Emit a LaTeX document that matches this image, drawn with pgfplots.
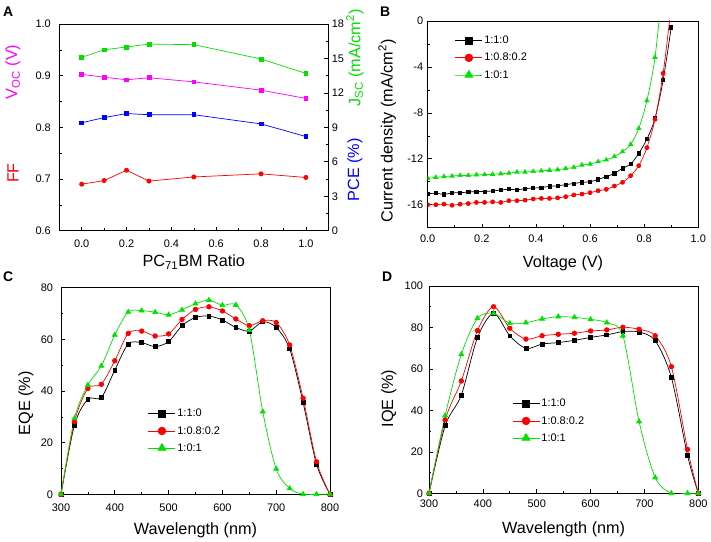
\documentclass[border=0pt]{standalone}
\usepackage{fontspec}
\setmainfont{Liberation Sans}
\usepackage{pgfplots}
\pgfplotsset{compat=1.18}
\definecolor{cgreen}{RGB}{0,225,0}
\definecolor{cmag}{RGB}{255,0,255}
\definecolor{cblue}{RGB}{0,0,255}
\definecolor{cred}{RGB}{255,0,0}
\newcommand\lblfont{\fontsize{16.3}{19}\selectfont}
\newcommand\tckfont{\fontsize{11}{13}\selectfont}
\pgfplotsset{
 panel/.style={
  scale only axis, anchor=south west,
  axis line style={line width=0.8bp},
  every tick/.style={black, line width=0.6bp},
  major tick length=4bp, minor tick length=2.2bp,
  tick align=inside,
  tick label style={font=\tckfont},
  label style={font=\lblfont},
  /pgf/number format/assume math mode=true,
  legend cell align=left,
  legend style={draw=none, fill=none, font=\tckfont, anchor=north west, row sep=5bp, inner sep=0pt, nodes={inner sep=1.5bp}},
  legend image code/.code={\draw[mark repeat=2,mark phase=2] plot coordinates {(0bp,0bp) (13.5bp,0bp) (27bp,0bp)};},
  every axis plot/.append style={line width=0.7bp},
 },
 bser/.style={black, mark=square*, mark size=1.9bp, mark options={solid}},
 rser/.style={cred, mark=*, mark size=2.3bp, mark options={solid}},
 gser/.style={cgreen, mark=triangle*, mark size=2.8bp, mark options={solid}},
 blg/.style={black, mark=square*, mark size=3.3bp, line width=0.8bp},
 rlg/.style={cred, mark=*, mark size=3.8bp, line width=0.8bp},
 glg/.style={cgreen, mark=triangle*, mark size=4.5bp, line width=0.8bp},
}
\begin{document}
\begin{tikzpicture}
\path[use as bounding box] (0bp,0bp) rectangle (711bp,542bp);
\node[anchor=north west, inner sep=0pt, font=\fontsize{14}{14}\selectfont\bfseries] at (3bp,535bp) {A};
\node[anchor=north west, inner sep=0pt, font=\fontsize{14}{14}\selectfont\bfseries] at (380bp,535bp) {B};
\node[anchor=north west, inner sep=0pt, font=\fontsize{14}{14}\selectfont\bfseries] at (3bp,270bp) {C};
\node[anchor=north west, inner sep=0pt, font=\fontsize{14}{14}\selectfont\bfseries] at (382bp,270bp) {D};

% ---------- Panel A (left axis) ----------
\begin{axis}[panel, at={(59.3bp,311.3bp)}, width=269bp, height=206.7bp,
 clip mode=individual,
 xmin=-0.1, xmax=1.1, ymin=0.6, ymax=1.0,
 xtick={0,0.2,0.4,0.6,0.8,1.0}, xticklabels={0.0,0.2,0.4,0.6,0.8,1.0},
 minor xtick={-0.1,0.1,0.3,0.5,0.7,0.9,1.1},
 ytick={0.6,0.7,0.8,0.9,1.0}, yticklabels={0.6,0.7,0.8,0.9,1.0},
 minor ytick={0.65,0.75,0.85,0.95},
 xtick pos=bottom, ytick pos=left,
 xticklabel style={yshift=-6bp}, yticklabel style={xshift=-5bp},
 xlabel={PC\textsubscript{71}BM Ratio},
 xlabel style={at={(axis description cs:0.5,-0.151)}, anchor=center},
]
\addplot[cmag, mark=square*, mark size=1.9bp] coordinates {
 (0,0.9026) (0.1,0.897) (0.2,0.892) (0.3,0.896) (0.5,0.888) (0.8,0.872) (1.0,0.856)};
\addplot[cred, mark=*, mark size=2.1bp] coordinates {
 (0,0.690) (0.1,0.697) (0.2,0.717) (0.3,0.696) (0.5,0.704) (0.8,0.710) (1.0,0.703)};
\node[rotate=90, text=cmag, font=\lblfont, anchor=center] at (axis description cs:-0.172,0.768) {V\textsubscript{OC} (V)};
\node[rotate=90, text=cred, font=\lblfont, anchor=center] at (axis description cs:-0.172,0.279) {FF};
\end{axis}
% ---------- Panel A (right axis) ----------
\begin{axis}[panel, at={(59.3bp,311.3bp)}, width=269bp, height=206.7bp,
 clip mode=individual,
 xmin=-0.1, xmax=1.1, ymin=0, ymax=18,
 axis y line*=right, axis x line=none,
 ytick={0,3,6,9,12,15,18}, minor ytick={1.5,4.5,7.5,10.5,13.5,16.5},
]
\addplot[cgreen, mark=square*, mark size=1.9bp] coordinates {
 (0,15.1) (0.1,15.75) (0.2,16.0) (0.3,16.25) (0.5,16.2) (0.8,14.95) (1.0,13.7)};
\addplot[cblue, mark=square*, mark size=1.9bp] coordinates {
 (0,9.4) (0.1,9.85) (0.2,10.2) (0.3,10.1) (0.5,10.1) (0.8,9.3) (1.0,8.2)};
\node[rotate=90, text=cgreen, font=\lblfont, anchor=center] at (axis description cs:1.099,0.835) {J\textsubscript{SC} (mA/cm\textsuperscript{2})};
\node[rotate=90, text=cblue, font=\lblfont, anchor=center] at (axis description cs:1.099,0.294) {PCE (\%)};
\end{axis}

% ---------- Panel B ----------
\begin{axis}[panel, at={(427.7bp,314.3bp)}, width=270.6bp, height=206.7bp,
 xmin=0, xmax=1, ymin=-18, ymax=0,
 xtick={0,0.2,0.4,0.6,0.8,1.0}, xticklabels={0.0,0.2,0.4,0.6,0.8,1.0},
 minor xtick={0.1,0.3,0.5,0.7,0.9},
 ytick={-16,-12,-8,-4,0}, yticklabels={-16,-12,-8,-4,0},
 minor ytick={-18,-14,-10,-6,-2},
 xtick pos=bottom, ytick pos=left,
 xticklabel style={yshift=-4bp}, yticklabel style={xshift=-1bp},
 xlabel={Voltage (V)}, ylabel={Current density (mA/cm\textsuperscript{2})},
 xlabel style={at={(axis description cs:0.5,-0.173)}, anchor=center},
 ylabel style={at={(axis description cs:-0.150,0.468)}, anchor=center},
 legend style={at={(0.10,0.935)}},
 clip marker paths=true,
]
\addlegendimage{blg}\addlegendentry{1:1:0}
\addlegendimage{rlg}\addlegendentry{1:0.8:0.2}
\addlegendimage{glg}\addlegendentry{1:0:1}
\addplot[bser, mark size=1.6bp, smooth, forget plot] coordinates {
 (0,-15.05) (0.03,-15.0) (0.06,-15.1) (0.09,-14.97) (0.12,-14.95) (0.15,-14.9)
 (0.18,-14.85) (0.21,-14.85) (0.24,-14.8) (0.27,-14.72) (0.30,-14.65) (0.33,-14.7)
 (0.36,-14.6) (0.39,-14.55) (0.42,-14.5) (0.45,-14.4) (0.48,-14.35) (0.51,-14.25)
 (0.54,-14.15) (0.57,-14.05) (0.60,-14.0) (0.63,-13.79) (0.66,-13.56) (0.69,-13.27)
 (0.72,-12.83) (0.75,-12.46) (0.78,-11.53) (0.81,-10.28) (0.84,-8.48) (0.87,-5.14) (0.90,-0.55)};
\addplot[rser, mark size=2.0bp, smooth, forget plot] coordinates {
 (0,-16.0) (0.03,-16.0) (0.06,-15.95) (0.09,-16.05) (0.12,-15.95) (0.15,-15.9)
 (0.18,-15.8) (0.21,-15.8) (0.24,-15.75) (0.27,-15.8) (0.30,-15.65) (0.33,-15.65)
 (0.36,-15.6) (0.39,-15.5) (0.42,-15.45) (0.45,-15.45) (0.48,-15.4) (0.51,-15.3)
 (0.54,-15.15) (0.57,-15.07) (0.60,-14.95) (0.63,-14.78) (0.66,-14.66) (0.69,-14.37)
 (0.72,-14.05) (0.75,-13.47) (0.78,-12.6) (0.81,-11.03) (0.84,-8.56) (0.87,-4.56) (0.90,1.3)};
\addplot[gser, mark size=2.4bp, smooth, forget plot] coordinates {
 (0,-13.7) (0.03,-13.62) (0.06,-13.55) (0.09,-13.5) (0.12,-13.45) (0.15,-13.45)
 (0.18,-13.4) (0.21,-13.38) (0.24,-13.35) (0.27,-13.3) (0.30,-13.25) (0.33,-13.15)
 (0.36,-13.15) (0.39,-13.1) (0.42,-13.05) (0.45,-13.0) (0.48,-12.95) (0.51,-12.85)
 (0.54,-12.75) (0.57,-12.54) (0.60,-12.46) (0.63,-12.25) (0.66,-12.1) (0.69,-11.8)
 (0.72,-11.38) (0.75,-10.74) (0.78,-9.35) (0.81,-6.94) (0.84,-3.16) (0.87,3.5)};
\end{axis}

% ---------- Panel C ----------
\begin{axis}[panel, at={(61bp,47.7bp)}, width=269bp, height=206.6bp,
 xmin=300, xmax=800, ymin=0, ymax=80,
 xtick={300,400,500,600,700,800}, minor xtick={350,450,550,650,750},
 ytick={0,20,40,60,80}, minor ytick={10,30,50,70},
 xtick pos=bottom, ytick pos=left,
 xticklabel style={yshift=-6bp}, yticklabel style={xshift=-4.5bp},
 xlabel={Wavelength (nm)}, ylabel={EQE (\%)},
 xlabel style={at={(axis description cs:0.5,-0.173)}, anchor=center},
 ylabel style={at={(axis description cs:-0.13,0.44)}, anchor=center},
 legend style={at={(0.323,0.42)}},
]
\addlegendimage{blg}\addlegendentry{1:1:0}
\addlegendimage{rlg}\addlegendentry{1:0.8:0.2}
\addlegendimage{glg}\addlegendentry{1:0:1}
\addplot[bser, smooth, forget plot] coordinates {
 (300,0) (325,26.8) (350,36.8) (375,37.5) (400,48.1) (425,58.2) (450,58.7) (475,57.2)
 (500,59.1) (525,65.3) (550,68.5) (575,69.0) (600,67.5) (625,64.6) (650,63.2) (675,66.8)
 (700,64.6) (725,56.3) (750,35.5) (775,11.6) (800,0)};
\addplot[rser, smooth, forget plot] coordinates {
 (300,0) (325,28.1) (350,41.0) (375,42.6) (400,51.7) (425,62.3) (450,63.2) (475,61.3)
 (500,62.1) (525,67.7) (550,71.6) (575,72.6) (600,71.0) (625,67.9) (650,65.3) (675,67.2)
 (700,66.5) (725,57.8) (750,37.2) (775,12.6) (800,0)};
\addplot[gser, smooth, forget plot] coordinates {
 (300,0) (325,29.4) (350,42.3) (375,49.7) (400,61.7) (425,70.6) (450,71.1) (475,70.5)
 (500,69.5) (525,71.4) (550,73.8) (575,75.2) (600,73.2) (625,73.3) (650,63.6) (675,32.0)
 (700,9.8) (725,2.3) (750,0) (775,0) (800,0)};
\end{axis}

% ---------- Panel D ----------
\begin{axis}[panel, at={(429bp,48.7bp)}, width=269.3bp, height=207.3bp,
 xmin=300, xmax=800, ymin=0, ymax=100,
 xtick={300,400,500,600,700,800}, minor xtick={350,450,550,650,750},
 ytick={0,20,40,60,80,100}, minor ytick={10,30,50,70,90},
 xtick pos=bottom, ytick pos=left,
 xticklabel style={yshift=-3bp}, yticklabel style={xshift=-2.5bp},
 xlabel={Wavelength (nm)}, ylabel={IQE (\%)},
 xlabel style={at={(axis description cs:0.5,-0.175)}, anchor=center},
 ylabel style={at={(axis description cs:-0.149,0.457)}, anchor=center},
 legend style={at={(0.308,0.462)}},
]
\addlegendimage{blg}\addlegendentry{1:1:0}
\addlegendimage{rlg}\addlegendentry{1:0.8:0.2}
\addlegendimage{glg}\addlegendentry{1:0:1}
\addplot[bser, smooth, forget plot] coordinates {
 (300,0) (330,32.6) (360,47.4) (390,75.1) (420,86.8) (450,76.0) (480,69.9) (510,72.0)
 (540,72.7) (570,73.8) (600,75.2) (630,76.4) (660,78.0) (690,77.8) (720,73.6) (750,55.9)
 (780,18.2) (800,0)};
\addplot[rser, smooth, forget plot] coordinates {
 (300,0) (330,35.4) (360,54.2) (390,78.5) (420,90.0) (450,79.6) (480,74.4) (510,76.0)
 (540,76.7) (570,77.2) (600,78.3) (630,78.8) (660,80.1) (690,79.1) (720,76.0) (750,61.1)
 (780,21.2) (800,0)};
\addplot[gser, smooth, forget plot] coordinates {
 (300,0) (330,37.5) (360,67.0) (390,84.4) (420,86.8) (450,82.0) (480,82.3) (510,84.1)
 (540,85.2) (570,84.9) (600,83.9) (630,82.3) (660,76.0) (690,34.6) (720,7.6) (750,0)
 (780,0) (800,0)};
\end{axis}
\end{tikzpicture}
\end{document}
